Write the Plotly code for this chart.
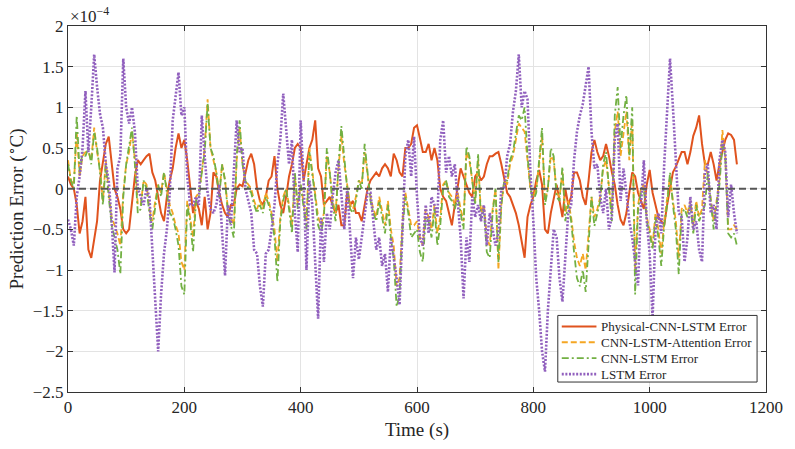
import plotly.graph_objects as go

# Time axis (s), sampled every 5 s
time_s = list(range(0, 1151, 5))

# Prediction errors, in units of 1e-4 °C (axis shows ×10^-4)
physical_cnn_lstm = [
    0.15, 0.05, 0.0, -0.2, -0.55, -0.4, -0.1, -0.75, -0.85, -0.6,
    -0.4, 0.1, 0.35, 0.55, 0.64, 0.3, 0.0, -0.1, -0.25, -0.5,
    -0.55, -0.5, -0.2, 0.15, 0.35, 0.3, 0.35, 0.4, 0.43, 0.2,
    0.1, -0.1, -0.3, -0.4, -0.1, 0.1, 0.25, 0.5, 0.68, 0.5,
    0.6, 0.35, 0.0, -0.3, -0.15, -0.25, -0.45, -0.1, -0.5, -0.3,
    0.2, 0.15, -0.05, -0.2, -0.3, -0.35, -0.2, -0.2, 0.0, 0.05,
    0.03, 0.2, 0.35, 0.43, 0.3, 0.0, -0.15, -0.2, -0.1, 0.1,
    0.15, 0.4, 0.0, -0.2, -0.3, -0.1, 0.15, 0.3, 0.5, 0.55,
    0.5, 0.1, 0.3, 0.5, 0.6, 0.84, 0.25, 0.15, -0.2, -0.15,
    -0.1, -0.2, -0.3, -0.2, -0.45, -0.45, -0.05, -0.2, -0.15, -0.3,
    -0.3, -0.4, -0.2, 0.0, 0.1, 0.15, 0.2, 0.15, 0.25, 0.3,
    0.25, 0.15, 0.43, 0.35, 0.2, 0.15, 0.5, 0.5, 0.55, 0.75,
    0.78, 0.62, 0.45, 0.45, 0.55, 0.35, 0.5, 0.35, 0.0, -0.1,
    -0.15, -0.3, -0.45, -0.2, 0.03, 0.25, 0.15, 0.05, -0.05, -0.1,
    0.15, 0.2, 0.1, 0.15, 0.3, 0.4, 0.4, 0.43, 0.45, 0.3,
    0.1, -0.05, -0.1, -0.2, -0.3, -0.45, -0.65, -0.85, -0.35, -0.2,
    -0.1, 0.1, 0.23, 0.05, -0.5, -0.55, -0.3, -0.1, 0.05, -0.15,
    -0.35, 0.0, -0.2, -0.1, 0.2, 0.2, 0.1, -0.1, -0.2, 0.1,
    0.45, 0.6, 0.45, 0.35, 0.4, 0.55, 0.4, 0.2, 0.05, -0.2,
    -0.38, -0.45, -0.3, -0.05, 0.2, 0.15, -0.05, -0.15, -0.25, 0.05,
    0.23, -0.05, -0.2, -0.35, -0.4, -0.45, -0.2, 0.0, 0.2, 0.27,
    0.35, 0.45, 0.45, 0.3, 0.45, 0.65, 0.75, 0.9, 0.55, 0.3,
    0.3, 0.45, 0.3, 0.1, 0.3, 0.45, 0.6, 0.68, 0.66, 0.6,
    0.3,
]

cnn_lstm_attention = [
    0.35, 0.1, 0.05, 0.7, 0.15, 0.4, 0.45, 0.45, 0.35, 0.75,
    0.45, 0.25, -0.15, 0.35, -0.05, -0.35, -0.45, -0.55, -0.7, -0.05,
    0.3, 0.45, 0.7, 0.35, -0.2, -0.2, 0.1, 0.05, -0.25, -0.4,
    -0.15, 0.05, -0.05, 0.2, 0.0, -0.2, -0.3, -0.45, -0.55, -0.9,
    -1.0, -0.15, -0.35, -0.6, -0.1, -0.05, 0.2, 0.5, 1.1, 0.5,
    0.35, 0.2, -0.05, 0.3, 0.1, -0.25, -0.35, -0.45, 0.35, 0.75,
    0.3, 0.1, 0.05, 0.0, -0.15, -0.25, -0.15, -0.25, -0.05, -0.15,
    -0.3, -0.5, -0.9, -0.35, -0.1, 0.0, -0.2, -0.45, 0.15, -0.2,
    0.05, -0.2, -0.4, 0.5, 0.2, -0.05, -0.35, -0.45, -0.3, 0.4,
    0.2, -0.15, -0.3, 0.25, 0.65, 0.3, 0.05, -0.2, -0.25, -0.1,
    0.1, 0.05, 0.45, 0.15, -0.1, -0.25, -0.35, -0.1, -0.3, -0.45,
    -0.15, -0.5, -0.7, -1.2, -1.1, -0.4, -0.05, -0.25, -0.45, -0.45,
    -0.4, -0.6, -0.7, -0.25, -0.35, -0.5, -0.2, -0.55, -0.35, 0.05,
    0.1, -0.05, -0.1, -0.2, -0.05, -0.25, -0.4, 0.45, 0.35, 0.1,
    -0.15, 0.35, -0.3, -0.2, -0.6, -0.7, -0.25, 0.0, -1.0, -0.2,
    0.1, 0.05, 0.3, 0.4, 0.6, 0.8, 0.75, 0.7, 0.35, 0.0,
    -0.1, 0.0, 0.3, 0.65, -0.15, 0.0, 0.4, 0.35, -0.05, -0.1,
    0.2, -0.3, -0.15, -0.35, -0.65, -0.85, -0.95, -0.8, -1.0, -0.5,
    -0.1, -0.35, -0.25, -0.1, 0.25, 0.35, 0.0, -0.3, 0.7, 0.95,
    0.4, 0.7, 0.95, 0.35, 0.85, -1.0, -0.2, 0.0, 0.05, -0.35,
    -0.5, -0.7, -0.3, -0.5, -0.8, -0.4, -0.15, 0.15, -0.15, -0.4,
    -0.85, -0.25, -0.2, -0.3, -0.15, -0.45, -0.15, -0.35, -0.25, 0.35,
    0.15, -0.15, -0.4, -0.15, 0.1, 0.72, 0.4, -0.5, -0.5, -0.45,
    -0.5,
]

cnn_lstm = [
    0.3, 0.1, 0.0, 0.9, 0.2, 0.45, 0.4, 0.5, 0.3, 0.7,
    0.5, 0.2, -0.2, 0.3, -0.1, -0.45, -0.6, -0.75, -1.05, -0.1,
    0.3, 0.5, 0.75, 0.3, -0.3, -0.25, 0.1, 0.0, -0.3, -0.5,
    -0.2, 0.05, -0.1, 0.2, -0.05, -0.3, -0.35, -0.5, -0.7, -1.2,
    -1.3, -0.2, -0.4, -0.78, -0.15, -0.1, 0.2, 0.45, 1.05, 0.5,
    0.4, 0.2, -0.1, 0.3, 0.1, -0.3, -0.45, -0.6, 0.4, 0.84,
    0.3, 0.1, 0.0, -0.05, -0.2, -0.3, -0.2, -0.3, -0.1, -0.2,
    -0.35, -0.6, -1.15, -0.4, -0.15, 0.0, -0.25, -0.55, 0.2, -0.25,
    0.05, -0.25, -0.5, 0.45, 0.2, -0.1, -0.45, -0.55, -0.35, 0.5,
    0.2, -0.2, -0.4, 0.3, 0.77, 0.35, 0.0, -0.25, -0.3, -0.15,
    0.1, 0.0, 0.55, 0.2, -0.15, -0.3, -0.4, -0.15, -0.35, -0.55,
    -0.2, -0.6, -0.87, -1.45, -1.31, -0.5, -0.1, -0.3, -0.6, -0.55,
    -0.5, -0.78, -0.9, -0.35, -0.4, -0.6, -0.25, -0.7, -0.45, 0.0,
    0.1, -0.1, -0.15, -0.25, -0.1, -0.3, -0.5, 0.52, 0.4, 0.1,
    -0.2, 0.43, -0.4, -0.25, -0.78, -0.85, -0.3, 0.0, -0.9, -0.2,
    0.1, 0.1, 0.35, 0.45, 0.68, 0.9, 0.84, 1.0, 0.4, 0.0,
    -0.15, -0.05, 0.35, 0.75, -0.2, 0.0, 0.5, 0.4, -0.1, -0.15,
    0.27, -0.4, -0.2, -0.4, -0.78, -1.1, -1.2, -1.0, -1.27, -0.6,
    -0.1, -0.46, -0.3, -0.15, 0.3, 0.45, 0.0, -0.4, 0.9, 1.25,
    0.5, 0.9, 1.15, 0.4, 1.0, -1.3, -0.25, -0.05, 0.0, -0.4,
    -0.55, -0.75, -0.35, -0.6, -0.95, -0.45, -0.2, 0.2, -0.2, -0.5,
    -1.05, -0.3, -0.25, -0.35, -0.2, -0.55, -0.2, -0.4, -0.3, -0.2,
    0.2, -0.15, -0.5, -0.2, 0.05, 0.55, 0.4, -0.55, -0.6, -0.55,
    -0.7,
]

lstm = [
    -0.38, -0.5, -0.7, -0.1, 0.15, 0.5, 1.2, 0.45, 1.0, 1.65,
    1.25, 0.92, 0.75, 0.3, 0.1, -0.4, -1.03, 0.25, 0.4, 1.6,
    1.0, 0.8, 1.0, 0.7, 0.0, -0.1, -0.2, 0.0, -0.1, -0.75,
    -1.4, -2.0, -1.3, -0.8, -0.5, -0.05, 0.84, 1.17, 1.43, 0.9,
    1.0, 0.15, -0.2, -0.2, -0.1, -0.2, 0.9, 0.4, -0.05, -0.25,
    -0.3, -0.2, 0.05, -0.55, -1.07, -0.2, -0.45, 0.2, 0.84, 0.45,
    0.5, 0.0, -0.15, -0.3, -0.75, -0.8, -1.2, -1.45, -0.8, -0.75,
    -0.5, -0.2, 0.3, 0.6, 1.17, 0.7, 0.3, 0.6, -0.3, -0.78,
    0.84, 0.1, -1.0, 0.1, -0.2, -0.9, -1.6, -0.35, -0.9, -0.3,
    -0.5, -0.1, 0.2, 0.35, -0.1, -0.5, 0.0, -0.5, -1.1, -0.6,
    -0.87, -0.6, -0.3, -0.05, -0.05, -0.45, -0.75, -0.6, -0.95, -0.8,
    -1.27, -0.6, -0.85, -1.1, -1.43, -0.5, 0.4, 0.6, 0.15, 0.64,
    -0.1, -0.6, -0.7, -0.2, -0.55, -0.1, -0.2, -0.35, 0.6, 0.84,
    0.2, 0.4, 0.15, 0.3, -0.1, -0.6, -1.35, -0.6, -0.9, -0.1,
    -0.35, -0.2, -0.4, -0.2, -0.7, -0.3, -0.5, -0.7, -0.55, 0.0,
    0.0, 0.4, 0.55, 0.95, 1.2, 1.65, 1.0, 1.2, 1.1, 0.2,
    -0.4, -1.1, -1.5, -2.0, -2.25, -1.5, -1.0, -0.5, -0.6, -1.1,
    -1.39, -0.8, -0.3, -0.2, 0.35, 0.7, 0.9, 1.04, 1.3, 1.5,
    0.7, 0.25, 0.3, -0.1, -0.3, 0.0, -0.5, -0.35, 0.6, 0.8,
    -0.15, 0.25, -0.05, -0.4, -0.6, -0.9, -1.19, -0.2, 0.35, -0.4,
    -0.8, -1.6, -0.5, -0.3, -0.55, 0.3, 1.0, 1.6, 1.0, 0.4,
    -0.3, -0.35, -0.9, -0.6, -0.1, -0.5, -0.4, -0.75, -0.9, 0.2,
    0.3, -0.3, -0.2, -0.5, 0.35, 0.6, 0.45, -0.35, 0.05, -0.3,
    -0.55,
]

series_names = ["Physical-CNN-LSTM Error", "CNN-LSTM-Attention Error",
                "CNN-LSTM Error", "LSTM Error"]
x_ticks = [0, 200, 400, 600, 800, 1000, 1200]
y_ticks = [-2.5, -2, -1.5, -1, -0.5, 0, 0.5, 1, 1.5, 2]
y_ticktext = ["\u22122.5", "\u22122", "\u22121.5", "\u22121", "\u22120.5", "0", "0.5", "1", "1.5", "2"]

FONT = "Liberation Serif, Times New Roman, serif"

styles = [
    dict(color="#E0531E", width=2.0, dash="solid"),
    dict(color="#F5A623", width=1.8, dash="6px,3px"),
    dict(color="#72B043", width=1.8, dash="7px,3px,2px,3px"),
    dict(color="#9160BE", width=2.6, dash="2px,1.6px"),
]

fig = go.Figure()
for name, ys, st in zip(series_names,
                        [physical_cnn_lstm, cnn_lstm_attention, cnn_lstm, lstm],
                        styles):
    fig.add_trace(go.Scatter(x=time_s, y=ys, mode="lines", name=name, line=st,
                             showlegend=False))

# zero reference line
fig.add_shape(type="line", xref="x", yref="y", x0=0, x1=1200, y0=0, y1=0,
              line=dict(color="#555555", width=2, dash="7px,4px"), layer="above")

# Legend box (drawn manually to match the compact MATLAB-style legend)
leg_x0, leg_x1, leg_y0, leg_y1 = 0.7017, 0.9872, 0.0272, 0.2092
fig.add_shape(type="rect", xref="paper", yref="paper", x0=leg_x0, x1=leg_x1,
              y0=leg_y0, y1=leg_y1, fillcolor="white",
              line=dict(color="#333333", width=1), layer="above")
row_y = [0.1793, 0.1359, 0.0924, 0.0489]
annotations = []
for name, st, yy in zip(series_names, styles, row_y):
    fig.add_shape(type="line", xref="paper", yref="paper", x0=0.7074, x1=0.7571,
                  y0=yy, y1=yy, line=dict(color=st["color"], width=st["width"], dash=st["dash"]),
                  layer="above")
    annotations.append(dict(text=name, xref="paper", yref="paper", x=0.7614, y=yy,
                            xanchor="left", yanchor="middle", showarrow=False,
                            font=dict(family=FONT, size=13, color="#262626")))

annotations.append(dict(text="\u00d710<sup>\u22124</sup>", xref="paper", yref="paper",
                        x=0, y=1, xanchor="left", yanchor="bottom", showarrow=False,
                        font=dict(family=FONT, size=17, color="#262626"), yshift=-2))

axis_common = dict(showline=True, linecolor="#333333", linewidth=1, mirror="ticks",
                   ticks="inside", ticklen=5, tickcolor="#333333",
                   showgrid=True, gridcolor="#E3E3E3", gridwidth=1, zeroline=False,
                   tickfont=dict(family=FONT, size=17, color="#262626"))

fig.update_layout(
    width=795, height=449,
    margin=dict(l=68, r=23, t=26, b=55),
    paper_bgcolor="white", plot_bgcolor="white",
    font=dict(family=FONT, color="#262626"),
    xaxis=dict(range=[0, 1200], tickvals=x_ticks,
               title=dict(text="Time (s)", font=dict(family=FONT, size=19), standoff=6),
               **axis_common),
    yaxis=dict(range=[-2.5, 2], tickvals=y_ticks, ticktext=y_ticktext,
               title=dict(text="Prediction Error (<sup>\u2218</sup>C)", font=dict(family=FONT, size=19), standoff=4),
               **axis_common),
    showlegend=False,
    annotations=annotations,
)

fig.write_html("out.html")
